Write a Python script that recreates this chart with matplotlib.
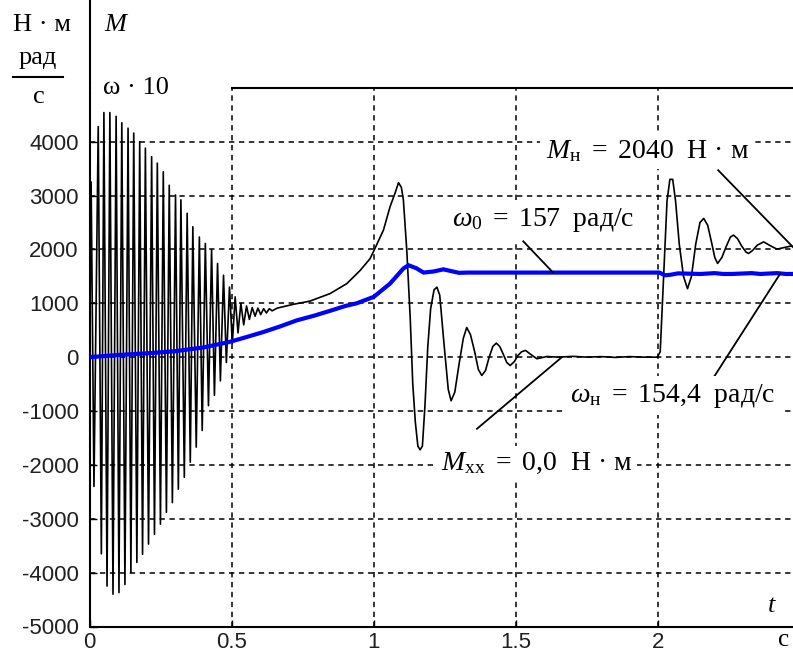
import matplotlib
matplotlib.use('Agg')
import matplotlib.pyplot as plt
from matplotlib.lines import Line2D

# torque M(t), Н·м  (time in seconds)
m_time = [0.000, 0.005, 0.015, 0.030, 0.041, 0.050, 0.061, 0.071, 0.082, 0.093,
          0.103, 0.113, 0.124, 0.135, 0.145, 0.155, 0.166, 0.176, 0.186, 0.196,
          0.207, 0.218, 0.228, 0.238, 0.249, 0.259, 0.270, 0.280, 0.291, 0.302,
          0.312, 0.321, 0.333, 0.343, 0.354, 0.363, 0.375, 0.386, 0.396, 0.407,
          0.418, 0.429, 0.439, 0.450, 0.460, 0.471, 0.481, 0.492, 0.502, 0.512,
          0.522, 0.532, 0.542, 0.552, 0.562, 0.572, 0.582, 0.592, 0.602, 0.612,
          0.622, 0.632, 0.642, 0.660, 0.716, 0.775, 0.846, 0.905, 0.952, 0.987,
          1.001, 1.034, 1.057, 1.075, 1.087, 1.097, 1.104, 1.116, 1.128, 1.137,
          1.146, 1.155, 1.163, 1.171, 1.180, 1.190, 1.200, 1.212, 1.222, 1.232,
          1.247, 1.262, 1.272, 1.285, 1.300, 1.315, 1.327, 1.340, 1.355, 1.368,
          1.380, 1.393, 1.406, 1.419, 1.431, 1.443, 1.456, 1.468, 1.480, 1.495,
          1.507, 1.520, 1.534, 1.550, 1.574, 1.609, 1.650, 1.700, 1.750, 1.800,
          1.850, 1.900, 1.950, 1.998, 2.008, 2.020, 2.032, 2.042, 2.052, 2.062,
          2.075, 2.090, 2.104, 2.118, 2.133, 2.148, 2.161, 2.175, 2.190, 2.200,
          2.210, 2.225, 2.240, 2.255, 2.266, 2.280, 2.295, 2.310, 2.319, 2.333,
          2.350, 2.372, 2.395, 2.419, 2.440, 2.466, 2.500]
m_torque = [0, 3250, -2400, 4280, -3650, 4540, -4250, 4540, -4400, 4470,
            -4370, 4350, -4220, 4250, -4000, 4160, -3810, 4000, -3660, 3880,
            -3470, 3720, -3290, 3600, -3100, 3440, -2880, 3190, -2700, 3010,
            -2450, 2920, -2230, 2670, -1950, 2420, -1670, 2230, -1360, 2110,
            -900, 1990, -710, 1740, -440, 1520, -100, 1300, 250, 1120,
            450, 1000, 600, 950, 700, 920, 760, 910, 790, 900,
            820, 900, 860, 910, 980, 1040, 1180, 1365, 1610, 1830,
            1985, 2360, 2790, 3050, 3240, 3150, 2920, 1985, 740, -490,
            -1200, -1650, -1720, -1650, -900, 200, 900, 1250, 1300, 1150,
            250, -600, -810, -650, -130, 350, 550, 420, 100, -230,
            -340, -250, 0, 200, 260, 200, 50, -100, -155, -80,
            30, 100, 125, 60, -30, 12, 0, 15, 0, 10,
            -5, 10, 0, 0, 100, 1500, 2900, 3300, 3300, 2900,
            2100, 1500, 1270, 1500, 2100, 2500, 2575, 2450, 2100, 1850,
            1740, 1850, 2050, 2230, 2265, 2200, 2060, 1950, 1925, 1980,
            2080, 2140, 2070, 2005, 2030, 2060, 2040]

# angular speed, plotted as ω·10
w_time = [0.0, 0.1, 0.2, 0.3, 0.4, 0.49, 0.55, 0.611, 0.67, 0.729,
          0.79, 0.846, 0.9, 0.94, 1.0, 1.057, 1.104, 1.122, 1.15, 1.175,
          1.21, 1.245, 1.27, 1.30, 1.33, 2.005, 2.025, 2.045, 2.07, 2.15,
          2.2, 2.23, 2.26, 2.33, 2.36, 2.42, 2.45, 2.5]
w_speed = [0, 40, 70, 110, 180, 280, 370, 466, 570, 683,
           770, 860, 950, 1000, 1120, 1365, 1645, 1706, 1650, 1570,
           1590, 1630, 1600, 1565, 1570, 1570, 1520, 1530, 1555, 1544,
           1560, 1544, 1544, 1560, 1544, 1560, 1544, 1544]

x_ticks = [0, 0.5, 1, 1.5, 2, 2.5]
x_labels = ['0', '0.5', '1', '1.5', '2', '']
y_ticks = [-5000, -4000, -3000, -2000, -1000, 0, 1000, 2000, 3000, 4000]
y_labels = ['-5000', '-4000', '-3000', '-2000', '-1000', '0',
            '1000', '2000', '3000', '4000']

# callouts: text, text position, leader start, leader end
notes = [
    (r'$M_{\mathrm{н}}\ =\ 2040$  Н · м', (1.963, 3830), (2.212, 3470), (2.476, 2040)),
    (r'$\omega_{0}\ =\ 157$  рад/с', (1.596, 2540), (1.526, 2150), (1.631, 1570)),
    (r'$\omega_{\mathrm{н}}\ =\ 154{,}4$  рад/с', (2.052, -713), (2.198, -360), (2.431, 1555)),
    (r'$M_{\mathrm{xx}}\ =\ 0{,}0$  Н · м', (1.572, -1977), (1.363, -1330), (1.662, 0)),
]

plt.rcParams['mathtext.fontset'] = 'custom'
plt.rcParams['mathtext.rm'] = 'Liberation Serif'
plt.rcParams['mathtext.it'] = 'Liberation Serif:italic'

W, H = 793, 661
fig = plt.figure(figsize=(W / 100, H / 100), dpi=100)
ax = fig.add_axes([89.7 / W, 1 - 626.5 / H, (800 - 89.7) / W, (626.5 - 87.8) / H])

ax.plot(m_time, m_torque, color='black', lw=1.2, zorder=3)
ax.plot(w_time, w_speed, color='#0000ff', lw=3.0, zorder=4, solid_joinstyle='miter')

ax.set_xlim(0, 2.5)
ax.set_ylim(-5000, 5000)
ax.set_xticks(x_ticks)
ax.set_xticklabels(x_labels)
ax.set_yticks(y_ticks)
ax.set_yticklabels(y_labels)
ax.tick_params(direction='in', length=5, width=1.0, colors='black',
               labelsize=16, labelcolor='#202020')
ax.tick_params(axis='y', pad=8)
ax.tick_params(axis='x', pad=4)
for lab in ax.get_xticklabels() + ax.get_yticklabels():
    lab.set_fontfamily('Liberation Sans')

ax.grid(True, color='black', linestyle=(0, (3.5, 3)), lw=1.1, zorder=1)
ax.spines['top'].set_visible(False)
ax.spines['right'].set_visible(False)
ax.spines['left'].set_linewidth(1.5)
ax.spines['bottom'].set_linewidth(1.5)
ax.axhline(5000, xmin=0.2, xmax=1.0, color='black', lw=1.5, zorder=2, clip_on=False)

# left axis line continues up through the unit block
fig.add_artist(Line2D([89.7 / W, 89.7 / W], [1 - 87.8 / H, 1.0],
                      transform=fig.transFigure, color='black', lw=1.5))

for text, pos, start, end in notes:
    ax.text(pos[0], pos[1], text, ha='center', va='center', fontsize=20,
            family='Liberation Serif', zorder=6,
            bbox=dict(facecolor='white', edgecolor='none', pad=4))
    ax.plot([start[0], end[0]], [start[1], end[1]], color='black', lw=1.3, zorder=5)

# axis captions
serif = 'Liberation Serif'
fig.text(42 / W, 1 - 25 / H, 'Н · м', ha='center', va='center', fontsize=19, family=serif)
fig.text(38 / W, 1 - 58 / H, 'рад', ha='center', va='center', fontsize=19, family=serif)
fig.add_artist(Line2D([13 / W, 63 / W], [1 - 77 / H, 1 - 77 / H],
                      transform=fig.transFigure, color='black', lw=1.5))
fig.text(39 / W, 1 - 97 / H, 'с', ha='center', va='center', fontsize=19, family=serif)
fig.text(115 / W, 1 - 25 / H, 'M', ha='center', va='center', fontsize=19,
         family=serif, style='italic')
fig.text(136 / W, 1 - 88 / H, 'ω · 10', ha='center', va='center', fontsize=19, family=serif)
fig.text(772 / W, 1 - 606 / H, 't', ha='center', va='center', fontsize=19,
         family=serif, style='italic')
fig.text(784 / W, 1 - 640 / H, 'c', ha='center', va='center', fontsize=18, family=serif)

fig.savefig('out.png', dpi=100)
